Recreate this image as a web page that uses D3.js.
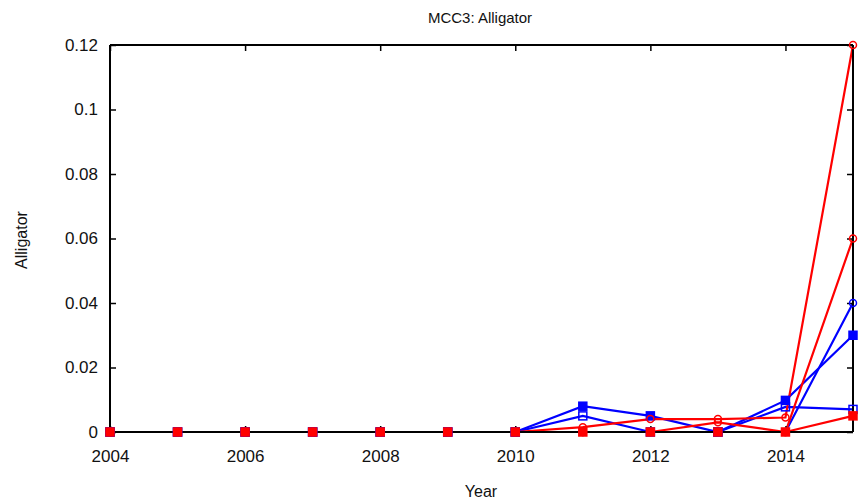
<!DOCTYPE html>
<html><head><meta charset="utf-8">
<script src="https://cdn.jsdelivr.net/npm/d3@7"></script>
<style>body{margin:0;background:#fff}svg{display:block}text{font-family:"Liberation Sans",Arial,sans-serif;fill:#111}</style>
</head><body><svg id="c" width="858" height="504"></svg>
<script>
const years = [2004,2005,2006,2007,2008,2009,2010,2011,2012,2013,2014,2015];
const red1  = [0,0,0,0,0,0,0,0.0015,0.004,0.004,0.0045,0.12];
const red2  = [0,0,0,0,0,0,0,0,0,0.003,0,0.06];
const red3  = [0,0,0,0,0,0,0,0,0,0,0,0.005];
const blue1 = [0,0,0,0,0,0,0,0.008,0.005,0,0.0098,0.03];
const blue2 = [0,0,0,0,0,0,0,0.005,0,0,0.0078,0.007];
const blue3 = [0,0,0,0,0,0,0,0,0,0,0,0.04];
const xTicks = [2004,2006,2008,2010,2012,2014];
const yTicks = [0,0.02,0.04,0.06,0.08,0.1,0.12];
const yTickLabels = ["0","0.02","0.04","0.06","0.08","0.1","0.12"];
const title = "MCC3: Alligator", xTitle = "Year", yTitle = "Alligator";

const series = [
  {v: blue3, color:"#0000ff", marker:"circle", fill:false},
  {v: blue2, color:"#0000ff", marker:"square", fill:false},
  {v: blue1, color:"#0000ff", marker:"square", fill:true},
  {v: red3,  color:"#ff0000", marker:"square", fill:true},
  {v: red2,  color:"#ff0000", marker:"circle", fill:false},
  {v: red1,  color:"#ff0000", marker:"circle", fill:false}
];

const svg = d3.select("#c");
const L=110,R=853,T=45,B=432;
const x = d3.scaleLinear().domain([2004,2015]).range([L,R]);
const y = d3.scaleLinear().domain([0,0.12]).range([B,T]);

const line = d3.line().x((d,i)=>x(years[i])).y(d=>y(d));
series.forEach(s=>{
  svg.append("path").datum(s.v).attr("d",line).attr("fill","none")
    .attr("stroke",s.color).attr("stroke-width",2.2);
});

// frame & axes
const axB = svg.append("g").attr("transform",`translate(0,${B})`)
  .call(d3.axisBottom(x).tickValues(xTicks).tickSize(-6).tickPadding(18).tickFormat(d3.format("d")));
const axT = svg.append("g").attr("transform",`translate(0,${T})`)
  .call(d3.axisTop(x).tickValues(xTicks).tickSize(-6).tickFormat(""));
const axL = svg.append("g").attr("transform",`translate(${L},0)`)
  .call(d3.axisLeft(y).tickValues(yTicks).tickSize(-6).tickPadding(12).tickFormat((d,i)=>yTickLabels[i]));
const axR = svg.append("g").attr("transform",`translate(${R},0)`)
  .call(d3.axisRight(y).tickValues(yTicks).tickSize(-6).tickFormat(""));
[axB,axT,axL,axR].forEach(g=>{
  g.selectAll(".tick line").attr("stroke","#000").attr("stroke-width",1.5);
  g.selectAll(".tick text").style("font-family","Liberation Sans, Arial, sans-serif").style("font-size","17px").attr("fill","#111");
});
axB.select(".domain").attr("stroke","#000").attr("stroke-width",2).attr("d",`M${L},0H${R}`);
axT.select(".domain").attr("stroke","#000").attr("stroke-width",2).attr("d",`M${L},0H${R}`);
axL.select(".domain").attr("stroke","#000").attr("stroke-width",2).attr("d",`M0,${B}V${T}`);
axR.select(".domain").attr("stroke","#000").attr("stroke-width",2).attr("d",`M0,${B}V${T}`);

// markers
series.forEach(s=>{
  const g = svg.append("g");
  s.v.forEach((v,i)=>{
    const cx=x(years[i]), cy=y(v);
    if(s.marker==="square"){
      g.append("rect").attr("x",cx-4).attr("y",cy-4).attr("width",8).attr("height",8)
        .attr("fill",s.fill?s.color:"none").attr("stroke",s.color).attr("stroke-width",1.5);
    } else {
      g.append("circle").attr("cx",cx).attr("cy",cy).attr("r",3.5)
        .attr("fill","none").attr("stroke",s.color).attr("stroke-width",1.5);
    }
  });
});

svg.append("text").attr("x",480).attr("y",23).attr("text-anchor","middle").style("font-size","15px").text(title);
svg.append("text").attr("x",481).attr("y",497).attr("text-anchor","middle").style("font-size","16px").text(xTitle);
svg.append("text").attr("transform","translate(27,240) rotate(-90)").attr("text-anchor","middle").style("font-size","16px").text(yTitle);
</script></body></html>
